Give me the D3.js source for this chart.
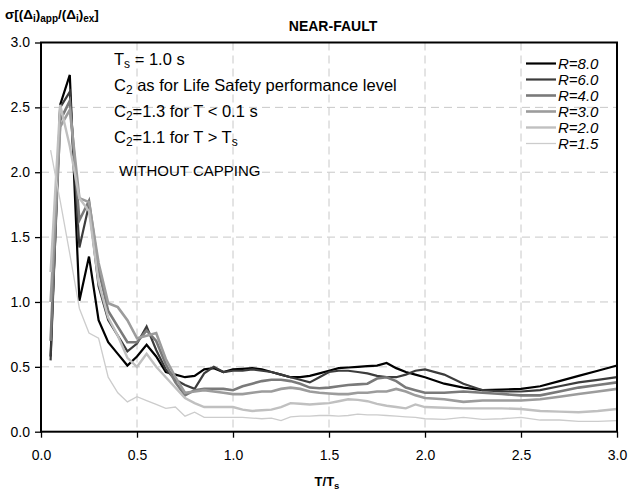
<!DOCTYPE html>
<html><head><meta charset="utf-8">
<script src="https://cdn.jsdelivr.net/npm/d3@7"></script>
<style>
body{margin:0;background:#fff;}
text{font-family:Arial,"Liberation Sans",sans-serif;}
</style></head>
<body><svg id="c" width="633" height="501"></svg>
<script>
const T = [0.05,0.10,0.15,0.20,0.25,0.30,0.35,0.40,0.45,0.50,0.55,0.60,0.65,0.70,0.75,0.80,0.85,0.90,0.95,1.00,
1.05,1.10,1.15,1.20,1.25,1.30,1.35,1.40,1.45,1.50,1.55,1.60,1.65,1.70,1.75,1.80,1.85,1.90,1.95,2.00,
2.1,2.2,2.3,2.4,2.5,2.6,2.7,2.8,2.9,3.0];
const R80 = [0.58,2.52,2.75,1.01,1.35,0.86,0.69,0.60,0.51,0.58,0.67,0.58,0.46,0.44,0.42,0.43,0.48,0.49,0.46,0.48,
0.485,0.49,0.48,0.46,0.44,0.42,0.42,0.43,0.45,0.47,0.49,0.495,0.50,0.505,0.51,0.53,0.49,0.46,0.44,0.42,
0.37,0.34,0.32,0.325,0.33,0.35,0.39,0.43,0.47,0.51];
const R60 = [0.55,2.50,2.62,1.42,1.75,1.12,0.86,0.74,0.62,0.68,0.81,0.63,0.48,0.40,0.36,0.33,0.45,0.50,0.46,0.47,
0.47,0.48,0.47,0.46,0.44,0.42,0.40,0.38,0.42,0.46,0.47,0.47,0.46,0.45,0.43,0.42,0.42,0.44,0.47,0.48,
0.44,0.37,0.32,0.31,0.31,0.32,0.35,0.38,0.40,0.42];
const R40 = [0.70,2.40,2.55,1.63,1.78,1.25,0.93,0.81,0.69,0.69,0.78,0.70,0.52,0.38,0.28,0.32,0.33,0.33,0.33,0.32,
0.35,0.37,0.39,0.40,0.40,0.39,0.37,0.34,0.335,0.34,0.35,0.36,0.365,0.37,0.41,0.42,0.39,0.34,0.32,0.30,
0.30,0.31,0.30,0.29,0.28,0.28,0.31,0.34,0.36,0.38];
const R30 = [1.00,2.35,2.48,1.80,1.77,1.30,0.99,0.96,0.86,0.72,0.74,0.76,0.56,0.42,0.30,0.31,0.32,0.31,0.30,0.29,
0.29,0.30,0.31,0.31,0.33,0.34,0.33,0.31,0.30,0.295,0.29,0.29,0.30,0.30,0.31,0.31,0.33,0.31,0.28,0.26,
0.25,0.23,0.24,0.24,0.24,0.25,0.27,0.29,0.31,0.33];
const R20 = [1.23,2.52,2.20,1.80,1.70,1.15,0.88,0.74,0.57,0.50,0.60,0.50,0.42,0.34,0.26,0.22,0.19,0.19,0.19,0.19,
0.17,0.16,0.165,0.17,0.19,0.22,0.215,0.21,0.215,0.22,0.235,0.25,0.245,0.235,0.215,0.20,0.19,0.18,0.21,0.19,
0.185,0.18,0.18,0.18,0.175,0.16,0.155,0.15,0.16,0.175];
const R15 = [2.17,1.78,1.37,0.95,0.76,0.72,0.42,0.30,0.23,0.27,0.24,0.21,0.18,0.19,0.12,0.15,0.11,0.11,0.11,0.11,
0.11,0.105,0.10,0.105,0.085,0.115,0.12,0.12,0.125,0.125,0.12,0.125,0.135,0.13,0.13,0.125,0.12,0.115,0.11,0.10,
0.095,0.11,0.095,0.10,0.11,0.09,0.09,0.08,0.08,0.085];
const seriesNames = ["R=8.0","R=6.0","R=4.0","R=3.0","R=2.0","R=1.5"];
const seriesData = [R80,R60,R40,R30,R20,R15];
const xTicks = [0,0.5,1.0,1.5,2.0,2.5,3.0];
const yTicks = [0,0.5,1.0,1.5,2.0,2.5,3.0];
const notes = [["T","s"," = 1.0 s"],["C","2"," as for Life Safety performance level"],["C","2","=1.3 for T < 0.1 s"],["C","2","=1.1 for T > T","s"]];

const colors = ["#000000","#3c3c3c","#7a7a7a","#9c9c9c","#c0c0c0","#cccccc"];
const widths = [2.2,2.2,2.6,2.6,2.4,1.3];

const svg = d3.select("#c");
const L=41, R=617, Tp=42.5, B=431.7;
const x = d3.scaleLinear().domain([0,3]).range([L,R]);
const y = d3.scaleLinear().domain([0,3]).range([B,Tp]);

// grid
svg.append("g").selectAll("line.gx").data(xTicks.slice(1,-1)).join("line")
  .attr("x1",d=>x(d)).attr("x2",d=>x(d)).attr("y1",Tp).attr("y2",B)
  .attr("stroke","#c8c8c8").attr("stroke-width",1).attr("stroke-dasharray","8,5");
svg.append("g").selectAll("line.gy").data(yTicks.slice(1,-1)).join("line")
  .attr("x1",L).attr("x2",R).attr("y1",d=>y(d)).attr("y2",d=>y(d))
  .attr("stroke","#c8c8c8").attr("stroke-width",1).attr("stroke-dasharray","8,5");

// lines
const line = d3.line().x((d,i)=>x(T[i])).y(d=>y(d));
seriesData.forEach((s,k)=>{
  svg.append("path").datum(s).attr("d",line).attr("fill","none")
    .attr("stroke",colors[k]).attr("stroke-width",widths[k]).attr("stroke-linejoin","miter");
});

// frame
svg.append("rect").attr("x",L).attr("y",Tp).attr("width",R-L).attr("height",B-Tp)
  .attr("fill","none").attr("stroke","#000").attr("stroke-width",2);

// axes
const xa = svg.append("g").attr("transform",`translate(0,${B})`)
  .call(d3.axisBottom(x).tickValues(xTicks).tickFormat(d3.format(".1f")).tickSize(6).tickSizeOuter(0));
const ya = svg.append("g").attr("transform",`translate(${L},0)`)
  .call(d3.axisLeft(y).tickValues(yTicks).tickFormat(d3.format(".1f")).tickSize(6).tickSizeOuter(0));
[xa,ya].forEach(a=>{
  a.select(".domain").remove();
  a.selectAll("line").attr("stroke","#000").attr("stroke-width",1.3);
  a.selectAll("text").attr("font-size",14).attr("fill","#000").attr("font-family","Arial, 'Liberation Sans', sans-serif");
});
xa.selectAll("text").attr("dy","1.35em");
ya.selectAll("text").attr("dx","-2");

// title
svg.append("text").attr("x",333).attr("y",31).attr("text-anchor","middle")
  .attr("font-size",14).attr("font-weight","bold").text("NEAR-FAULT");

// y title
const yt = svg.append("text").attr("x",5).attr("y",19).attr("font-size",13.5).attr("font-weight","bold");
const ytParts = [["σ[(Δ",0],["i",1],[")",0],["app",1],["/(Δ",0],["i",1],[")",0],["ex",1],["]",0]];
ytParts.forEach(p=>{
  yt.append("tspan").attr("font-size",p[1]?10:13.5).attr("baseline-shift",p[1]?"-3":"0").text(p[0]);
});

// x title
const xt = svg.append("text").attr("x",327).attr("y",486).attr("text-anchor","middle").attr("font-size",13).attr("font-weight","bold");
xt.append("tspan").text("T/T");
xt.append("tspan").attr("font-size",9.5).attr("baseline-shift","-3").text("s");

// notes
const noteY = [65,91,117,143];
notes.forEach((n,i)=>{
  const t = svg.append("text").attr("x",114).attr("y",noteY[i]).attr("font-size",16.5);
  n.forEach((part,j)=>{
    const sub = (j%2===1);
    t.append("tspan").attr("font-size",sub?12:16.5).attr("baseline-shift",sub?"-3":"0").text(part);
  });
});
svg.append("text").attr("x",119).attr("y",176).attr("font-size",15).text("WITHOUT CAPPING");

// legend
const lg = svg.append("g");
seriesNames.forEach((nm,k)=>{
  const yy = 63.5 + k*16;
  lg.append("line").attr("x1",526).attr("x2",556).attr("y1",yy).attr("y2",yy)
    .attr("stroke",colors[k]).attr("stroke-width",widths[k]);
  lg.append("text").attr("x",558).attr("y",yy+5).attr("font-size",15).attr("font-style","italic").text(nm);
});
</script></body></html>
